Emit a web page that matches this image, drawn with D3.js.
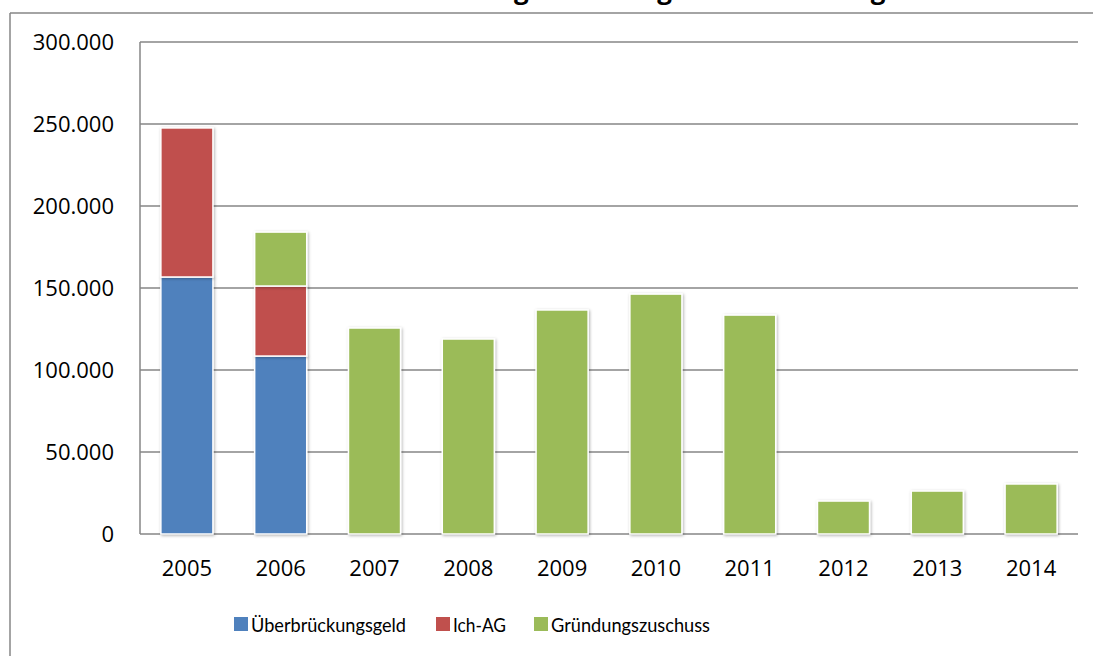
<!DOCTYPE html>
<html>
<head>
<meta charset="utf-8">
<script src="https://cdn.jsdelivr.net/npm/d3@7"></script>
<style>
  html, body { margin: 0; padding: 0; background: #fff; overflow: hidden; }
  svg { display: block; overflow: hidden; font-family: "Open Sans", sans-serif; }
</style>
</head>
<body>
<svg id="chart"></svg>
<script>
// Data
const years = ["2005", "2006", "2007", "2008", "2009", "2010", "2011", "2012", "2013", "2014"];
const ueberbrueckungsgeld = [156700, 108500, 0, 0, 0, 0, 0, 0, 0, 0];
const ichAG = [90900, 42700, 0, 0, 0, 0, 0, 0, 0, 0];
const gruendungszuschuss = [0, 32900, 125600, 118900, 136600, 146300, 133500, 20100, 26200, 30500];
const seriesNames = ["Überbrückungsgeld", "Ich-AG", "Gründungszuschuss"];
const seriesColors = ["#4F81BD", "#C0504D", "#9BBB59"];
const yTicks = [0, 50000, 100000, 150000, 200000, 250000, 300000];
const title = "Anzahl der Eintritte in die Gründungsförderung durch Arbeitsagentur";

const width = 1093, height = 656;
const margin = { top: 42, right: 15, bottom: 122, left: 140 };

const svg = d3.select("#chart").attr("width", width).attr("height", height);

// Shadow for bars
const defs = svg.append("defs");
const shadow = defs.append("filter").attr("id", "shadow")
  .attr("x", "-20%").attr("y", "-20%").attr("width", "140%").attr("height", "140%");
shadow.append("feDropShadow").attr("dx", 1).attr("dy", 1).attr("stdDeviation", 1.5)
  .attr("flood-color", "#000").attr("flood-opacity", 0.3);

// Outer chart border: only top and left edges fall inside the page
svg.append("line")
  .attr("x1", 10).attr("x2", width).attr("y1", 13).attr("y2", 13)
  .attr("stroke", "#868686").attr("stroke-width", 1.5);
svg.append("line")
  .attr("x1", 10).attr("x2", 10).attr("y1", 13).attr("y2", height)
  .attr("stroke", "#868686").attr("stroke-width", 1.5);

// Title, mostly clipped by the top edge
svg.append("text")
  .attr("x", 958).attr("y", -1)
  .attr("text-anchor", "end")
  .attr("font-size", "26px").attr("font-weight", "bold")
  .attr("fill", "#000")
  .text(title);

const x = d3.scaleBand()
  .domain(years)
  .range([margin.left, width - margin.right])
  .paddingInner(0.445).paddingOuter(0.2225);

const y = d3.scaleLinear()
  .domain([0, 300000])
  .range([height - margin.bottom, margin.top]);

const fmt = v => d3.format(",")(v).replace(/,/g, ".");

// Gridlines
svg.append("g")
  .selectAll("line")
  .data(yTicks)
  .join("line")
  .attr("x1", margin.left).attr("x2", width - margin.right)
  .attr("y1", d => y(d)).attr("y2", d => y(d))
  .attr("stroke", "#868686").attr("stroke-width", 1.5);

// Left axis line
svg.append("line")
  .attr("x1", margin.left).attr("x2", margin.left)
  .attr("y1", y(300000)).attr("y2", y(0))
  .attr("stroke", "#868686").attr("stroke-width", 1.5);

// Y labels
svg.append("g")
  .selectAll("text")
  .data(yTicks)
  .join("text")
  .attr("x", 114).attr("y", d => y(d))
  .attr("dy", "0.35em")
  .attr("text-anchor", "end")
  .attr("font-size", "22px")
  .attr("fill", "#000")
  .text(d => fmt(d));

// Stacked bars
const rows = years.map((yr, i) => ({
  year: yr,
  s0: ueberbrueckungsgeld[i],
  s1: ichAG[i],
  s2: gruendungszuschuss[i]
}));
const stack = d3.stack().keys(["s0", "s1", "s2"])(rows);

svg.append("g")
  .selectAll("g")
  .data(stack)
  .join("g")
  .attr("fill", (d, i) => seriesColors[i])
  .selectAll("rect")
  .data(d => d.filter(p => p[1] - p[0] > 0))
  .join("rect")
  .attr("x", d => x(d.data.year))
  .attr("width", x.bandwidth())
  .attr("y", d => y(d[1]))
  .attr("height", d => y(d[0]) - y(d[1]))
  .attr("stroke", "#fff").attr("stroke-width", 1.5)
  .style("filter", "url(#shadow)");

// X labels
svg.append("g")
  .selectAll("text")
  .data(years)
  .join("text")
  .attr("x", d => x(d) + x.bandwidth() / 2)
  .attr("y", 568)
  .attr("dy", "0.35em")
  .attr("text-anchor", "middle")
  .attr("font-size", "22px")
  .attr("fill", "#000")
  .text(d => d);

// Legend
const legendX = [234, 436, 534];
const legendW = [155, 53, 159];
const legend = svg.append("g")
  .selectAll("g")
  .data(seriesNames)
  .join("g")
  .attr("transform", (d, i) => `translate(${legendX[i]},617)`);
legend.append("rect")
  .attr("width", 14).attr("height", 14)
  .attr("fill", (d, i) => seriesColors[i]);
legend.append("text")
  .attr("x", 17).attr("y", 8)
  .attr("dy", "0.35em")
  .attr("font-family", "Lato, sans-serif")
  .attr("font-size", "20px")
  .attr("textLength", (d, i) => legendW[i])
  .attr("lengthAdjust", "spacingAndGlyphs")
  .attr("fill", "#000")
  .text(d => d);
</script>
</body>
</html>
